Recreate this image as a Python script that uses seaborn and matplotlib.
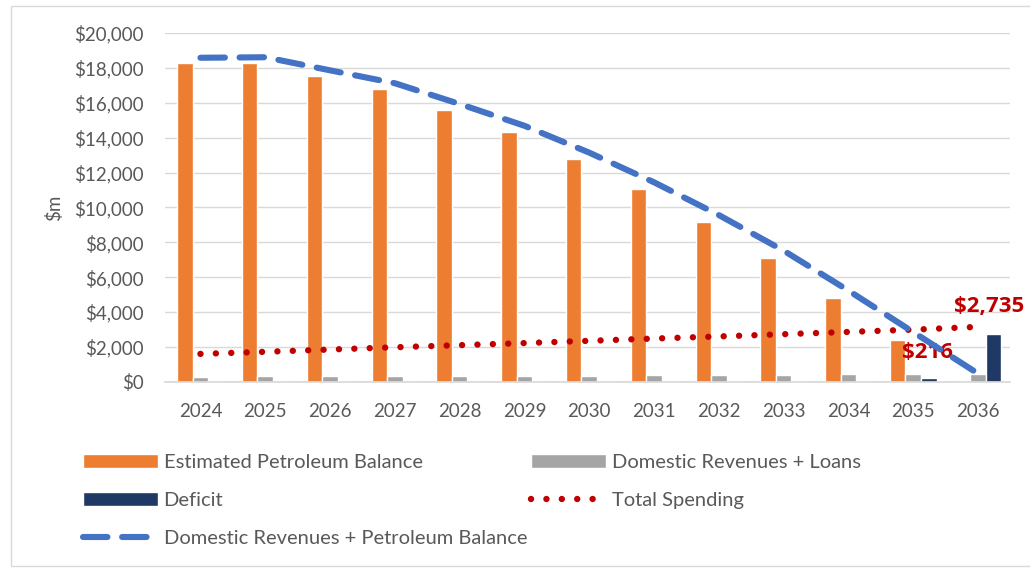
import numpy as np
import pandas as pd
import seaborn as sns
import matplotlib.pyplot as plt
from matplotlib.patches import Patch, Rectangle
from matplotlib.lines import Line2D
from matplotlib.ticker import FuncFormatter

years = ['2024', '2025', '2026', '2027', '2028', '2029', '2030',
         '2031', '2032', '2033', '2034', '2035', '2036']
petroleum = [18280, 18300, 17540, 16790, 15590, 14330, 12780,
             11060, 9170, 7110, 4810, 2400, 0]
dom_loans = [300, 310, 320, 330, 340, 350, 360, 375, 390, 405, 420, 440, 470]
deficit = [0, 0, 0, 0, 0, 0, 0, 0, 0, 0, 0, 216, 2735]
spending = [1600, 1720, 1850, 1980, 2100, 2220, 2350,
            2480, 2600, 2730, 2860, 2990, 3150]
dom_petro = [18580, 18610, 17860, 17120, 15930, 14680, 13140,
             11440, 9560, 7520, 5230, 2850, 470]

names = ['Estimated Petroleum Balance', 'Domestic Revenues + Loans', 'Deficit']
colors = ['#ED7D31', '#A5A5A5', '#1F3864']

df = pd.DataFrame({
    'year': years * 3,
    'value': petroleum + dom_loans + deficit,
    'series': [n for n in names for _ in years],
})

sns.set_theme(style='white')
plt.rcParams['font.family'] = ['Lato', 'DejaVu Sans']

fig = plt.figure(figsize=(10.30, 5.69), dpi=100)
ax = fig.add_axes([0.160, 0.329, 0.821, 0.613])

sns.barplot(data=df, x='year', y='value', hue='series', order=years,
            hue_order=names, palette=colors, width=0.72, gap=0,
            saturation=1, legend=False, ax=ax, zorder=2)

spend_style = dict(color='#C00000', lw=4.6, linestyle=(0, (0.01, 2.4)),
                   dash_capstyle='round')
blue_style = dict(color='#4472C4', lw=4.4, linestyle=(0, (4.0, 2.4)),
                  dash_capstyle='round')

xs = np.arange(len(years))
ax.plot(xs, spending, zorder=3, **spend_style)
ax.plot(xs, dom_petro, zorder=4, **blue_style)

ax.set_ylim(0, 20000)
ax.set_xlim(-0.55, 12.5)
ax.set_yticks(range(0, 20001, 2000))
ax.yaxis.set_major_formatter(FuncFormatter(lambda v, p: '${:,.0f}'.format(v)))
ax.grid(axis='y', color='#D9D9D9', lw=1)
ax.set_axisbelow(True)
for s in ['top', 'right', 'left']:
    ax.spines[s].set_visible(False)
ax.spines['bottom'].set_color('#D9D9D9')
ax.tick_params(axis='both', colors='#595959', labelsize=13.5, length=0)
ax.tick_params(axis='x', pad=15)
ax.tick_params(axis='y', pad=15)
ax.set_xlabel('')
ax.set_ylabel('$m', color='#595959', fontsize=13.5, labelpad=8)

# value callouts
ax.text(11.63, 4300, '$2,735', color='#C00000', fontsize=16,
        fontweight='bold', family='Open Sans', ha='left', va='center',
        clip_on=False)
ax.text(10.82, 1660, '$216', color='#C00000', fontsize=16,
        fontweight='bold', family='Open Sans', ha='left', va='center',
        clip_on=False)

handles = [
    Patch(facecolor=colors[0], label=names[0]),
    Patch(facecolor=colors[2], label=names[2]),
    Line2D([], [], label='Domestic Revenues + Petroleum Balance', **blue_style),
    Patch(facecolor=colors[1], label=names[1]),
    Line2D([], [], label='Total Spending', **spend_style),
]
leg = fig.legend(handles=handles, ncol=2, loc='upper left',
                 bbox_to_anchor=(0.063, 0.234), frameon=False, fontsize=14.5,
                 handlelength=3.7, handleheight=0.65, handletextpad=0.3,
                 labelspacing=1.05, columnspacing=0.2)
for t in leg.get_texts():
    t.set_color('#595959')

fig.patches.append(Rectangle((0.011, 0.005), 1.1, 0.985, transform=fig.transFigure,
                             fill=False, edgecolor='#D9D9D9', lw=1))

fig.savefig('out.png', dpi=100)
